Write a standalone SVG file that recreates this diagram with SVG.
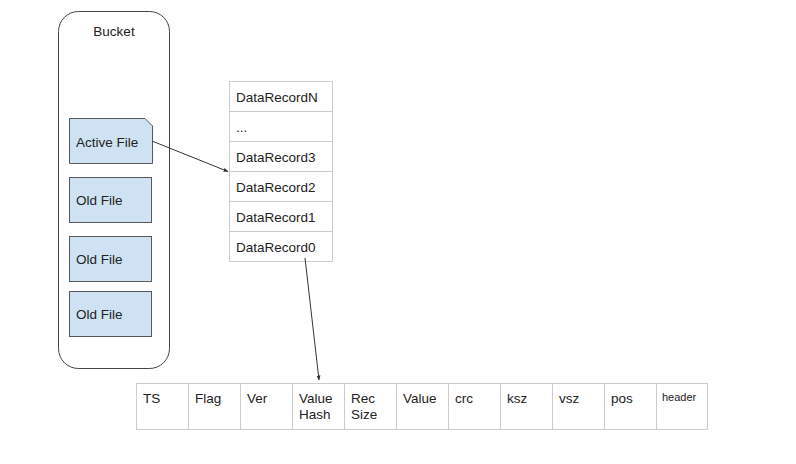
<svg xmlns="http://www.w3.org/2000/svg" width="796" height="464" viewBox="0 0 796 464">
<defs>
<style>
text{font-family:"Liberation Sans",Arial,sans-serif;font-size:13.5px;fill:#222}
.file{fill:#cfe2f3;stroke:#595959;stroke-width:1}
.cell{fill:#fff;stroke:#cccccc;stroke-width:1}
.conn{stroke:#333;stroke-width:1;fill:none;marker-end:url(#arr)}
</style>
<marker id="arr" viewBox="0 0 10 10" refX="9" refY="5" markerWidth="5" markerHeight="5" orient="auto">
<path d="M0,1 L10,5 L0,9 z" fill="#333"/>
</marker>
</defs>
<rect width="796" height="464" fill="#fff"/>
<g id="bucket">
<rect x="58.5" y="11.5" width="111" height="357" rx="20" ry="20" fill="#fff" stroke="#444" stroke-width="1"/>
<text x="114" y="36" text-anchor="middle">Bucket</text>
</g>
<g id="active-file">
<path class="file" d="M69.5,118.5 H145 L152.5,126 V163.5 H69.5 Z"/>
<text x="76" y="147">Active File</text>
</g>
<g id="old-file-1">
<rect class="file" x="69.5" y="177.5" width="82" height="45"/>
<text x="76" y="205">Old File</text>
</g>
<g id="old-file-2">
<rect class="file" x="69.5" y="236.5" width="82" height="45"/>
<text x="76" y="264">Old File</text>
</g>
<g id="old-file-3">
<rect class="file" x="69.5" y="291.5" width="82" height="45"/>
<text x="76" y="319">Old File</text>
</g>
<g id="records">
<rect class="cell" x="229.5" y="81.5" width="103" height="30"/>
<rect class="cell" x="229.5" y="111.5" width="103" height="30"/>
<rect class="cell" x="229.5" y="141.5" width="103" height="30"/>
<rect class="cell" x="229.5" y="171.5" width="103" height="30"/>
<rect class="cell" x="229.5" y="201.5" width="103" height="30"/>
<rect class="cell" x="229.5" y="231.5" width="103" height="30"/>
<text x="236" y="102">DataRecordN</text>
<text x="236" y="132">...</text>
<text x="236" y="162">DataRecord3</text>
<text x="236" y="192">DataRecord2</text>
<text x="236" y="222">DataRecord1</text>
<text x="236" y="252">DataRecord0</text>
</g>
<g id="record-layout">
<rect class="cell" x="136.5" y="383.5" width="52" height="46"/>
<rect class="cell" x="188.5" y="383.5" width="52" height="46"/>
<rect class="cell" x="240.5" y="383.5" width="52" height="46"/>
<rect class="cell" x="292.5" y="383.5" width="52" height="46"/>
<rect class="cell" x="344.5" y="383.5" width="52" height="46"/>
<rect class="cell" x="396.5" y="383.5" width="52" height="46"/>
<rect class="cell" x="448.5" y="383.5" width="52" height="46"/>
<rect class="cell" x="500.5" y="383.5" width="52" height="46"/>
<rect class="cell" x="552.5" y="383.5" width="52" height="46"/>
<rect class="cell" x="604.5" y="383.5" width="52" height="46"/>
<rect class="cell" x="656.5" y="383.5" width="51" height="46"/>
<text x="143" y="403">TS</text>
<text x="195" y="403">Flag</text>
<text x="247" y="403">Ver</text>
<text x="299" y="403">Value</text>
<text x="299" y="419">Hash</text>
<text x="351" y="403">Rec</text>
<text x="351" y="419">Size</text>
<text x="403" y="403">Value</text>
<text x="455" y="403">crc</text>
<text x="507" y="403">ksz</text>
<text x="559" y="403">vsz</text>
<text x="611" y="403">pos</text>
<text x="662" y="401" style="font-size:11px">header</text>
</g>
<g id="connectors">
<line class="conn" x1="152" y1="141" x2="228" y2="171.5"/>
<line class="conn" x1="305" y1="258" x2="319" y2="380"/>
</g>
</svg>
